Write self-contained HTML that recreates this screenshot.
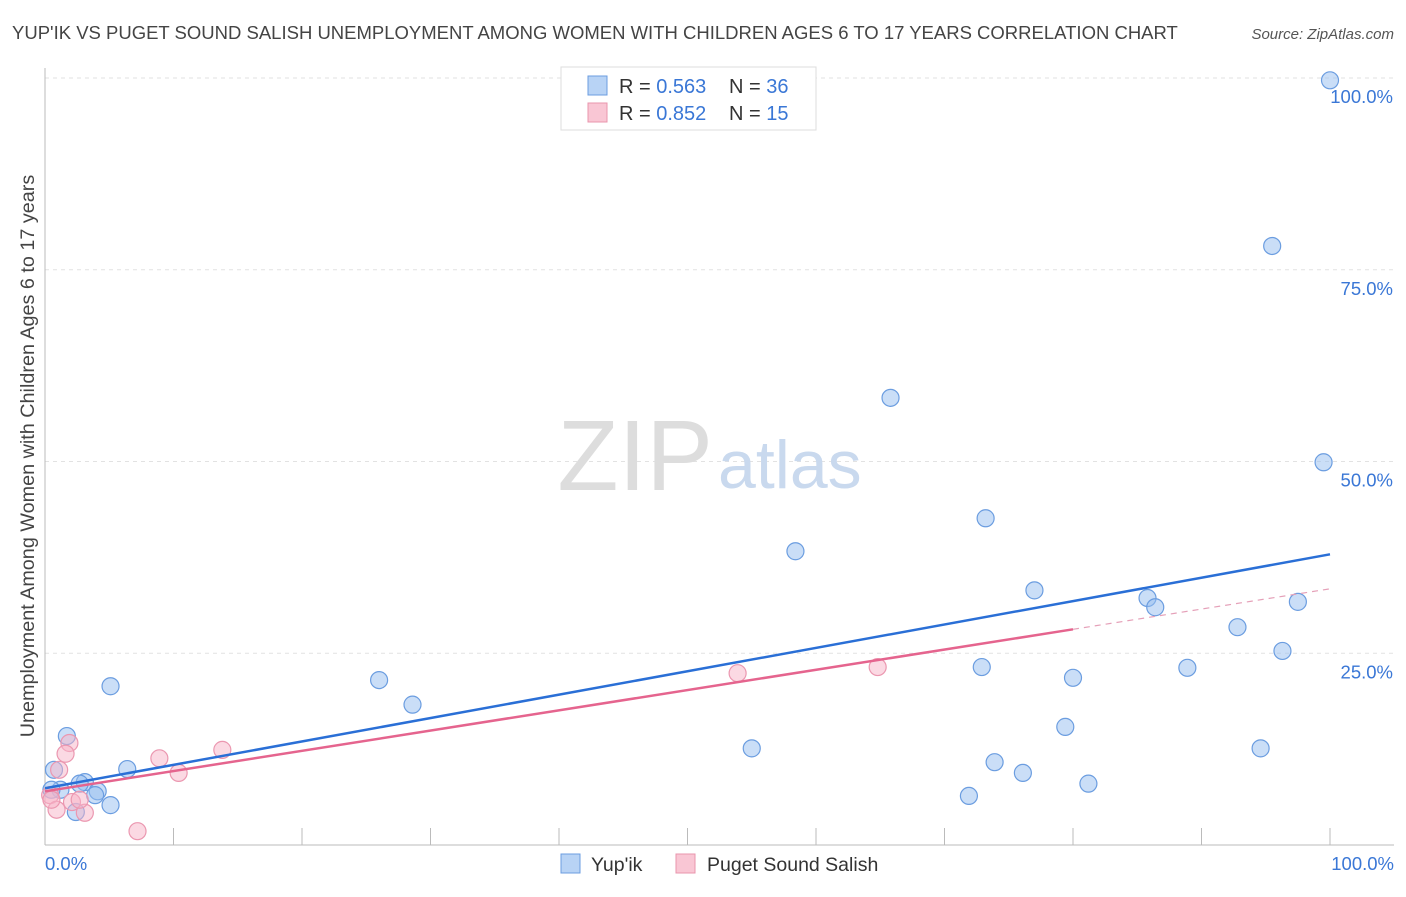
<!DOCTYPE html>
<html><head><meta charset="utf-8"><style>
body{margin:0;background:#fff;font-family:"Liberation Sans",sans-serif;}
svg text{font-family:"Liberation Sans",sans-serif;}
</style></head><body>
<svg width="1406" height="892" xmlns="http://www.w3.org/2000/svg">
<text x="12" y="39" font-size="18.5" fill="#444">YUP'IK VS PUGET SOUND SALISH UNEMPLOYMENT AMONG WOMEN WITH CHILDREN AGES 6 TO 17 YEARS CORRELATION CHART</text>
<text x="1394" y="39" font-size="15" fill="#555" font-style="italic" text-anchor="end">Source: ZipAtlas.com</text>
<g id="grid"></g>
<text x="713" y="490" font-size="100" fill="#ddd" font-family="Liberation Serif" text-anchor="end">ZIP</text>
<text x="718" y="488" font-size="68" fill="#c9d9ee">atlas</text>
<g id="pts"></g>
<g id="lines"></g>
<text transform="translate(34,456) rotate(-90)" font-size="19.8" fill="#444" text-anchor="middle">Unemployment Among Women with Children Ages 6 to 17 years</text>
<g>
<rect x="561" y="67" width="255" height="63" fill="#fff" stroke="#ddd"/>
<rect x="588" y="76" width="19" height="19" fill="#b8d3f5" stroke="#6b9de0"/>
<rect x="588" y="103" width="19" height="19" fill="#f9c6d4" stroke="#e995ad"/>
<text x="619" y="93" font-size="20" fill="#333">R = <tspan fill="#3a77d6">0.563</tspan></text>
<text x="729" y="93" font-size="20" fill="#333">N = <tspan fill="#3a77d6">36</tspan></text>
<text x="619" y="120" font-size="20" fill="#333">R = <tspan fill="#3a77d6">0.852</tspan></text>
<text x="729" y="120" font-size="20" fill="#333">N = <tspan fill="#3a77d6">15</tspan></text>
</g>
<g>
<rect x="561" y="854" width="19" height="19" fill="#b8d3f5" stroke="#6b9de0"/>
<text x="591" y="871" font-size="19.5" fill="#333">Yup'ik</text>
<rect x="676" y="854" width="19" height="19" fill="#f9c6d4" stroke="#e995ad"/>
<text x="707" y="871" font-size="19.5" fill="#333">Puget Sound Salish</text>
</g>
<text x="45" y="870" font-size="18.5" fill="#3a77d6">0.0%</text>
<text x="1394" y="870" font-size="18.5" fill="#3a77d6" text-anchor="end">100.0%</text>
</svg>
<script>
const blueX=[100,95.5,65.8,99.5,73.2,58.4,77.0,85.8,86.4,97.5,92.8,96.3,72.9,88.9,80.0,26.0,5.1,28.6,79.4,55.0,94.6,1.7,73.9,76.1,81.2,71.9,6.4,0.7,3.1,2.7,1.2,4.1,3.9,5.1,2.4,0.5];
const blueY=[99.7,78.1,58.3,49.9,42.6,38.3,33.2,32.2,31.0,31.7,28.4,25.3,23.2,23.1,21.8,21.5,20.7,18.3,15.4,12.6,12.6,14.2,10.8,9.4,8.0,6.4,9.9,9.8,8.2,8.0,7.2,7.0,6.5,5.2,4.3,7.2];
const pinkX=[53.9,64.8,1.9,1.6,13.8,8.9,10.4,1.1,0.4,2.1,0.9,3.1,7.2,0.5,2.7];
const pinkY=[22.4,23.2,13.3,11.9,12.4,11.3,9.4,9.8,6.5,5.6,4.6,4.2,1.8,5.9,5.9];
const blueTrend=[7.4,37.9];
const pinkTrend=[7.0,33.4];
const pinkSolidEnd=80;
const yTicks=[25,50,75,100];
const yTickLabels=["25.0%","50.0%","75.0%","100.0%"];
const xTicks=[0,10,20,30,40,50,60,70,80,90,100];
const NS="http://www.w3.org/2000/svg";
const sx=v=>45+v*12.85, sy=v=>845-v*7.67;
function mk(tag,attrs,parent){const e=document.createElementNS(NS,tag);for(const k in attrs)e.setAttribute(k,attrs[k]);document.getElementById(parent).appendChild(e);return e;}
yTicks.forEach((t,i)=>{
 const g=mk('line',{x1:45,x2:1394,y1:sy(t),y2:sy(t),stroke:'#e2e2e2','stroke-dasharray':'4,4'},'grid');
 
 
 const l=mk('text',{x:1393,y:sy(t)+25,'font-size':18.5,fill:'#3a77d6','text-anchor':'end'},'grid');
 l.textContent=yTickLabels[i];
 
 
});
const ax=mk('line',{x1:45,x2:45,y1:68,y2:845,stroke:'#bbb'},'grid');


const bx=mk('line',{x1:45,x2:1394,y1:845,y2:845,stroke:'#bbb'},'grid');


xTicks.forEach(t=>{
 const k=mk('line',{x1:sx(t),x2:sx(t),y1:828,y2:845,stroke:'#bbb'},'grid');
 
 
});
blueX.forEach((x,i)=>{
 const c=mk('circle',{cx:sx(x),cy:sy(blueY[i]),r:8.5,fill:'rgba(150,190,240,0.5)',stroke:'#6b9de0','stroke-width':1.2},'pts');
 
 
});
pinkX.forEach((x,i)=>{
 const c=mk('circle',{cx:sx(x),cy:sy(pinkY[i]),r:8.5,fill:'rgba(247,180,200,0.5)',stroke:'#eb97b0','stroke-width':1.2},'pts');
 
 
});
const bl=mk('line',{x1:sx(0),y1:sy(blueTrend[0]),x2:sx(100),y2:sy(blueTrend[1]),stroke:'#2a6fd6','stroke-width':2.5},'lines');


const pAt=v=>pinkTrend[0]+(pinkTrend[1]-pinkTrend[0])*v/100;
const pl=mk('line',{x1:sx(0),y1:sy(pinkTrend[0]),x2:sx(pinkSolidEnd),y2:sy(pAt(pinkSolidEnd)),stroke:'#e5648e','stroke-width':2.5},'lines');


const pd=mk('line',{x1:sx(pinkSolidEnd),y1:sy(pAt(pinkSolidEnd)),x2:sx(100),y2:sy(pinkTrend[1]),stroke:'#e5a0b8','stroke-width':1.2,'stroke-dasharray':'6,5'},'lines');


</script>
</body></html>
